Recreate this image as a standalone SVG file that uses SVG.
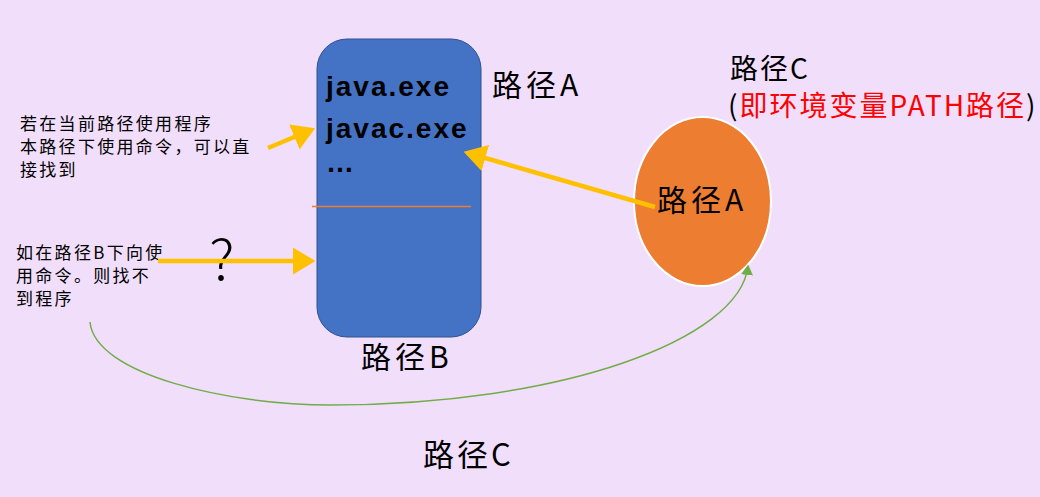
<svg xmlns="http://www.w3.org/2000/svg" width="1040" height="497" viewBox="0 0 1040 497">
<style>
.cjk{font-family:"Noto Sans CJK SC","Noto Sans",sans-serif;fill:#000}
.small{font-size:17px;letter-spacing:2.3px}
.big{font-size:30px;letter-spacing:4px}
.code{font-family:"Liberation Sans","Noto Sans",sans-serif;font-weight:bold;font-size:28px;letter-spacing:2px;fill:#000}
.ya{stroke:#FFC000;stroke-width:4.5;fill:none}
</style>
<defs>
<marker id="ah" markerWidth="6" markerHeight="6" refX="4" refY="3" orient="auto" markerUnits="strokeWidth"><path d="M0,0 L5,3 L0,6 z" fill="#FFC000"/></marker>
<marker id="gh" markerWidth="8" markerHeight="8" refX="6" refY="4" orient="auto" markerUnits="strokeWidth"><path d="M0,0 L7,4 L0,8 z" fill="#70AD47"/></marker>
</defs>
<rect width="1040" height="497" fill="#F1DEFB"/>
<g id="boxB">
<rect x="317" y="39" width="164" height="298" rx="30" fill="#4472C4" stroke="#2F528F" stroke-width="1"/>
<line x1="312" y1="206.5" x2="471" y2="206.5" stroke="#ED7D31" stroke-width="1.5"/>
<text class="code" x="326" y="96">java.exe</text>
<text class="code" x="326" y="138">javac.exe</text>
<text class="code" x="326" y="172">…</text>
</g>
<g id="ellipseA">
<ellipse cx="702.5" cy="201.5" rx="68.5" ry="84.5" fill="#ED7D31" stroke="#FFFFFF" stroke-width="2"/>
<text class="cjk big" x="657" y="211">路径A</text>
</g>
<g id="labels">
<text class="cjk big" x="492" y="96">路径A</text>
<text class="cjk" font-size="28" letter-spacing="2" x="730" y="79">路径C</text>
<text class="cjk" font-size="28" letter-spacing="2" x="728" y="116">(<tspan fill="#FF0000">即环境变量PATH路径</tspan>)</text>
<text class="cjk big" letter-spacing="3" x="361" y="368">路径B</text>
<text class="cjk" font-size="31" letter-spacing="3" x="423" y="466">路径C</text>
<text class="cjk small" x="20" y="130">若在当前路径使用程序</text>
<text class="cjk small" x="20" y="153">本路径下使用命令，可以直</text>
<text class="cjk small" x="20" y="176">接找到</text>
<text class="cjk small" x="16" y="259">如在路径B下向使</text>
<text class="cjk small" x="16" y="282">用命令。则找不</text>
<text class="cjk small" x="16" y="305">到程序</text>
<text class="cjk" font-size="56" font-weight="300" x="222" y="280" text-anchor="middle">?</text>
</g>
<g id="connectors">
<line class="ya" x1="268" y1="148" x2="311" y2="130" marker-end="url(#ah)"/>
<line class="ya" x1="655" y1="207" x2="468" y2="153" marker-end="url(#ah)"/>
<line class="ya" x1="158" y1="261" x2="311" y2="261" marker-end="url(#ah)"/>
<path d="M90,322 C95,375 230,405 330,405 C560,405 740,340 748,266" stroke="#70AD47" stroke-width="1.5" fill="none" marker-end="url(#gh)"/>
</g>
</svg>
